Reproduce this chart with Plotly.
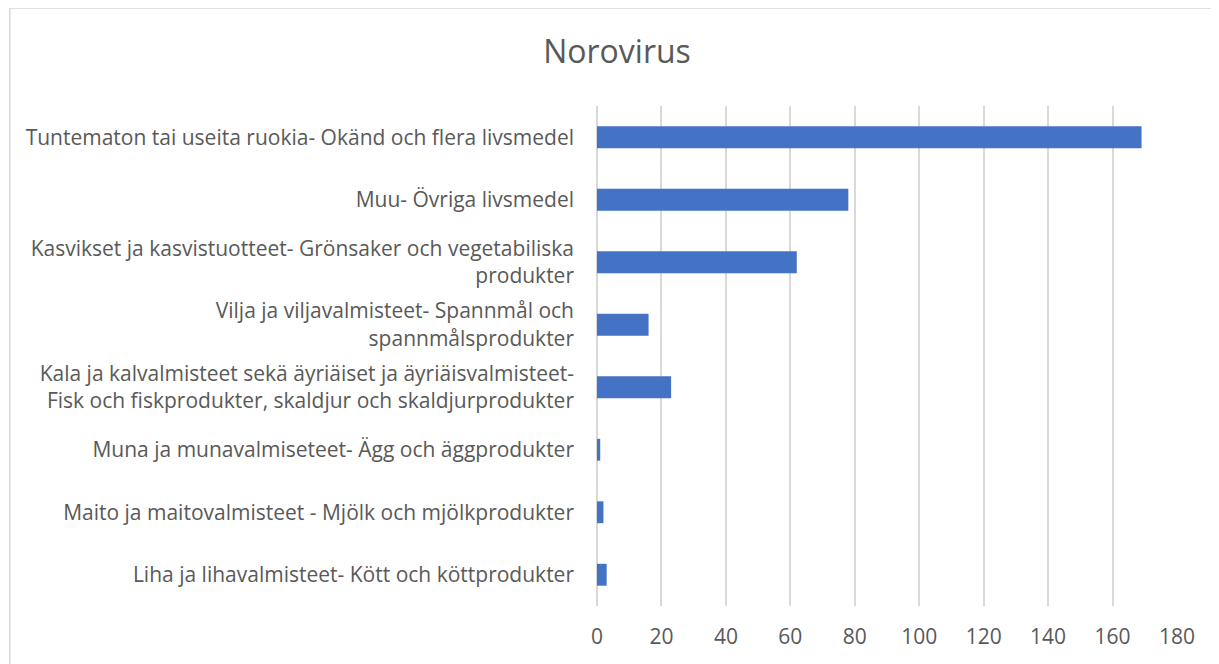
import plotly.graph_objects as go

categories = [
    "Tuntematon tai useita ruokia- Okänd och flera livsmedel",
    "Muu- Övriga livsmedel",
    "Kasvikset ja kasvistuotteet- Grönsaker och vegetabiliska<br>produkter",
    "Vilja ja viljavalmisteet- Spannmål och<br>spannmålsprodukter",
    "Kala ja kalvalmisteet sekä äyriäiset ja äyriäisvalmisteet-<br>Fisk och fiskprodukter, skaldjur och skaldjurprodukter",
    "Muna ja munavalmiseteet- Ägg och äggprodukter",
    "Maito ja maitovalmisteet - Mjölk och mjölkprodukter",
    "Liha ja lihavalmisteet- Kött och köttprodukter",
]
values = [169, 78, 62, 16, 23, 1, 2, 3]
x_ticks = [0, 20, 40, 60, 80, 100, 120, 140, 160, 180]

# page body has an 8px offset
OFF = 8
W, H = 1219 - OFF, 664 - OFF
ml, mr, mt, mb = 596.5 - OFF, 41.7, 105.7 - OFF, 57.5

fig = go.Figure(go.Bar(
    y=categories, x=values, orientation="h",
    marker=dict(color="#4472C4", line=dict(width=0)),
))

pw = W - ml - mr
ph = H - mt - mb
fig.update_layout(
    width=W, height=H,
    margin=dict(l=ml, r=mr, t=mt, b=mb),
    paper_bgcolor="white", plot_bgcolor="white",
    font=dict(family="Open Sans, sans-serif", color="#595959", size=21),
    title=dict(text="Norovirus", x=(617 - OFF) / W, xanchor="center", y=1 - (52 - OFF) / H, yanchor="middle",
               font=dict(size=32, color="#595959")),
    bargap=0.65,
    showlegend=False,
    xaxis=dict(range=[0, 180], tickvals=x_ticks, showgrid=True, gridcolor="#d9d9d9", gridwidth=2,
               zeroline=True, zerolinecolor="#d9d9d9", zerolinewidth=2,
               showline=False, ticks="", ticklabelstandoff=16),
    yaxis=dict(autorange="reversed", showgrid=False, zeroline=False, showline=False, ticks="",
               ticklabelstandoff=22),
    shapes=[
        dict(type="line", xref="paper", yref="paper",
             x0=(8.5 - OFF - ml) / pw, x1=(W + 5 - ml) / pw,
             y0=1 + (mt - 7.5 + OFF) / ph, y1=1 + (mt - 7.5 + OFF) / ph,
             line=dict(color="#d9d9d9", width=1.5)),
        dict(type="line", xref="paper", yref="paper",
             x0=(8.5 - OFF - ml) / pw, x1=(8.5 - OFF - ml) / pw,
             y0=1 + (mt - 7.5 + OFF) / ph, y1=-(mb + 5) / ph,
             line=dict(color="#d9d9d9", width=1.5)),
    ],
)

fig.write_html("out.html")
